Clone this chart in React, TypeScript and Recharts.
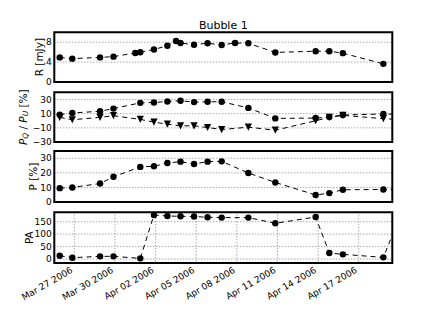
import React from 'react';
import { LineChart, Line, XAxis, YAxis, CartesianGrid, ReferenceArea, Label } from 'recharts';

// ---- data (x = days since 2006-03-27 00:00) ----
const xTickDays = [0, 3, 6, 9, 12, 15, 18, 21];
const xTickLabels = ['Mar 27 2006', 'Mar 30 2006', 'Apr 02 2006', 'Apr 05 2006', 'Apr 08 2006', 'Apr 11 2006', 'Apr 14 2006', 'Apr 17 2006'];

const fluxDays = [-1.08, -0.15, 1.9, 2.89, 4.5, 4.87, 5.88, 6.87, 7.51, 7.84, 8.84, 9.84, 10.88, 11.87, 12.85, 14.84, 17.82, 18.83, 19.83, 22.82];
const fluxValues = [4.95, 4.7, 4.95, 5.1, 5.85, 6.0, 6.55, 7.3, 8.25, 7.85, 7.5, 7.8, 7.45, 7.85, 7.8, 5.95, 6.2, 6.2, 5.8, 3.65];

const polDays = [-1.08, -0.15, 1.9, 2.89, 4.87, 5.88, 6.87, 7.84, 8.84, 9.84, 10.88, 12.85, 14.84, 17.82, 18.83, 19.83, 22.82, 23.84];
const pqValues = [8.6, 11, 13.3, 17.1, 25.2, 25.7, 27.1, 28.1, 26.2, 26.7, 26.7, 18.1, 3.3, 3.8, 5.2, 8.1, 9.5, 9];
const puValues = [4.8, 1.4, 4.8, 7.1, 1.9, -1.9, -4.8, -7.1, -7.1, -9.5, -12.4, -9.0, -13.3, 0, 4.8, 7.6, 2.9, 2];
const pValues = [9.5, 10, 12.7, 17.3, 24.1, 24.5, 26.8, 27.7, 26.1, 27.7, 27.9, 19.9, 13.4, 4.8, 6.1, 8.4, 8.6, 8.6];
const paValues = [13.4, 5.4, 10.8, 10.8, 2.7, 177, 173, 172, 171, 168, 166.7, 166.7, 143.8, 169, 24, 18.8, 6.7, 145];

const fluxTicks = [0, 4, 8];
const pqpuTicks = [-30, -10, 10, 30];
const pTicks = [0, 10, 20, 30];
const paTicks = [0, 50, 100, 150];

const fluxData = fluxDays.map((d, i) => ({ day: d, r: fluxValues[i] }));
const polData = polDays.map((d, i) => ({ day: d, pq: pqValues[i], pu: puValues[i], p: pValues[i], pa: paValues[i] }));

// ---- layout ----
const W = 436;
const H = 327;
const X_DOMAIN: [number, number] = [-1.48, 23.48];
const PLOT_LEFT = 54.3;
const PLOT_RIGHT = 392.3;
const FONT = 'DejaVu Sans';

const circleDot = (props: any) => {
  const { cx, cy, index } = props;
  if (cx == null || cy == null) return <g key={`c${index}`} />;
  return <circle key={`c${index}`} cx={cx} cy={cy} r={3.2} fill="#000" stroke="none" />;
};

const triDot = (props: any) => {
  const { cx, cy, index } = props;
  if (cx == null || cy == null) return <g key={`t${index}`} />;
  const s = 3.6;
  return (
    <polygon
      key={`t${index}`}
      points={`${cx - s},${cy - s} ${cx + s},${cy - s} ${cx},${cy + s}`}
      fill="#000"
      stroke="none"
    />
  );
};

const DateTick = (props: any) => {
  const { x, y, payload } = props;
  const idx = xTickDays.indexOf(payload.value);
  const ax = x - 1;
  const ay = y + 9;
  return (
    <text x={ax} y={ay} transform={`rotate(-30 ${ax} ${ay})`} textAnchor="end" fontSize={9} fontFamily={FONT} fill="#000">
      {xTickLabels[idx]}
    </text>
  );
};

const fmt = (v: number) => String(v).replace('-', '\u2212');

type PanelProps = {
  data: any[];
  top: number;
  height: number;
  domain: [number, number];
  ticks: number[];
  labelX: number;
  label: React.ReactNode;
  bottomAxis?: boolean;
  children: React.ReactNode;
};

function Panel({ data, top, height, domain, ticks, labelX, label, bottomAxis, children }: PanelProps) {
  const xh = bottomAxis ? 50 : 1;
  const cy = top + height / 2;
  return (
    <div style={{ position: 'absolute', left: 0, top: 0, width: W, height: H }}>
      <LineChart
        width={W}
        height={H}
        data={data}
        margin={{ top, right: W - PLOT_RIGHT, left: 0, bottom: H - top - height - xh }}
      >
        <CartesianGrid stroke="#808080" strokeDasharray="1 2" strokeWidth={1} />
        <XAxis
          dataKey="day"
          type="number"
          domain={X_DOMAIN}
          allowDataOverflow
          ticks={xTickDays}
          interval={0}
          height={xh}
          axisLine={false}
          tickLine={false}
          tickSize={0}
          tickMargin={0}
          tick={bottomAxis ? <DateTick /> : false}
        />
        <YAxis
          type="number"
          domain={domain}
          allowDataOverflow
          ticks={ticks}
          interval={0}
          width={PLOT_LEFT}
          axisLine={false}
          tickLine={false}
          tickSize={0}
          tickMargin={2.5}
          tickFormatter={fmt}
          tick={{ fontSize: 9, fontFamily: FONT, fill: '#000' }}
        >
          <Label
            content={() => (
              <text
                x={labelX}
                y={cy}
                transform={`rotate(-90 ${labelX} ${cy})`}
                textAnchor="middle"
                dominantBaseline="central"
                fontSize={10.5}
                fontFamily={FONT}
                fill="#000"
              >
                {label}
              </text>
            )}
          />
        </YAxis>
        {children}
        <ReferenceArea
          x1={X_DOMAIN[0]}
          x2={X_DOMAIN[1]}
          y1={domain[0]}
          y2={domain[1]}
          fill="none"
          fillOpacity={0}
          stroke="#000"
          strokeWidth={2}
          ifOverflow="visible"
        />
      </LineChart>
    </div>
  );
}

const lineStyle = {
  stroke: '#000',
  strokeWidth: 1,
  strokeDasharray: '5 4',
};

export default function App() {
  return (
    <div style={{ position: 'absolute', left: 0, top: 0, width: W, height: H, background: '#fff', overflow: 'hidden' }}>
      <Panel data={fluxData} top={32.3} height={49.7} domain={[0, 10]} ticks={fluxTicks} labelX={38.7} label="R [mJy]">
        <Line dataKey="r" type="linear" {...lineStyle} dot={circleDot} activeDot={false} isAnimationActive={false} />
      </Panel>
      <Panel
        data={polData}
        top={92.3}
        height={49.8}
        domain={[-30, 40]}
        ticks={pqpuTicks}
        labelX={23.5}
        label={
          <>
            <tspan fontStyle="italic">P</tspan>
            <tspan fontStyle="italic" fontSize={7.5} dy={2}>Q</tspan>
            <tspan dy={-2}> / </tspan>
            <tspan fontStyle="italic">P</tspan>
            <tspan fontStyle="italic" fontSize={7.5} dy={2}>U</tspan>
            <tspan dy={-2}> [%]</tspan>
          </>
        }
      >
        <Line dataKey="pq" type="linear" {...lineStyle} dot={circleDot} activeDot={false} isAnimationActive={false} />
        <Line dataKey="pu" type="linear" {...lineStyle} dot={triDot} activeDot={false} isAnimationActive={false} />
      </Panel>
      <Panel data={polData} top={151} height={51} domain={[0, 35]} ticks={pTicks} labelX={32.7} label="P [%]">
        <Line dataKey="p" type="linear" {...lineStyle} dot={circleDot} activeDot={false} isAnimationActive={false} />
      </Panel>
      <Panel data={polData} top={212.3} height={50.7} domain={[-16, 188]} ticks={paTicks} labelX={29.5} label="PA" bottomAxis>
        <Line dataKey="pa" type="linear" {...lineStyle} dot={circleDot} activeDot={false} isAnimationActive={false} />
      </Panel>
      <svg width={W} height={H} style={{ position: 'absolute', left: 0, top: 0, pointerEvents: 'none' }}>
        <text x={(PLOT_LEFT + PLOT_RIGHT) / 2} y={29.3} textAnchor="middle" fontSize={11} fontFamily={FONT} fill="#000">
          Bubble 1
        </text>
      </svg>
    </div>
  );
}
